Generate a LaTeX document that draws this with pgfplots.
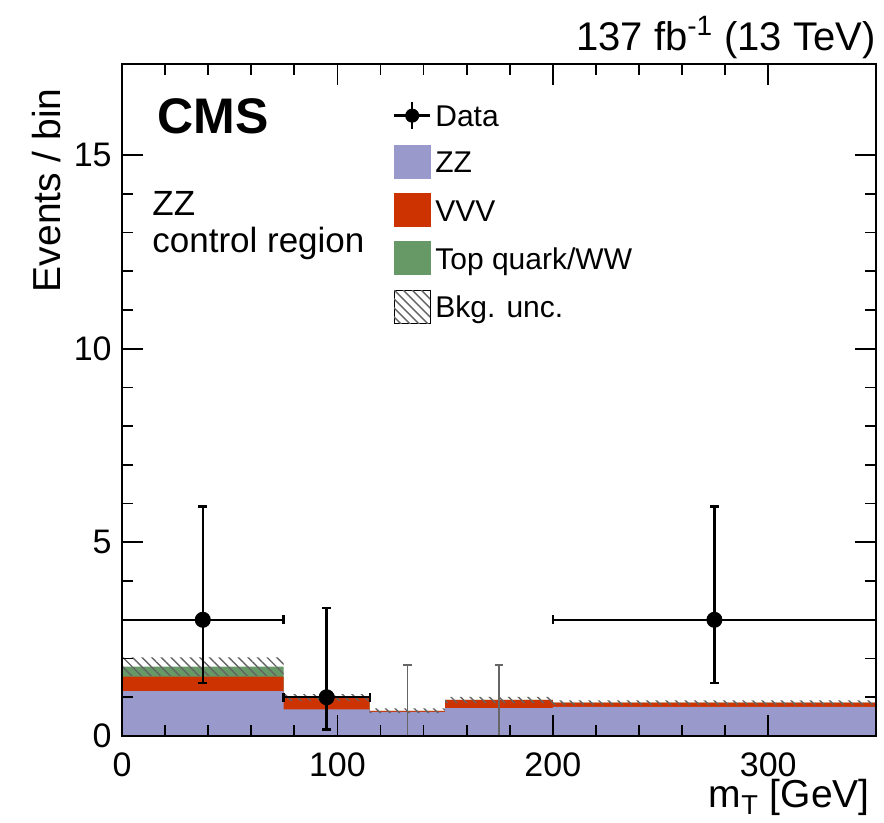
\documentclass[border=0pt]{standalone}
\usepackage{fontspec}
\setmainfont{Liberation Sans}
\usepackage{pgfplots}
\pgfplotsset{compat=1.18}
\usepackage{pgfplotstable}
\usepgfplotslibrary{fillbetween}
\usetikzlibrary{patterns.meta}
\definecolor{zzcol}{RGB}{153,153,204}
\definecolor{vvvcol}{RGB}{204,51,0}
\definecolor{topcol}{RGB}{102,153,102}
\definecolor{hatchcol}{RGB}{100,100,100}

\pgfplotstableread{
x zz zzv tot lo hi
0 1.16 1.53 1.79 1.55 2.03
75 0.69 0.99 0.99 0.90 1.08
115 0.62 0.65 0.65 0.59 0.71
150 0.72 0.93 0.93 0.85 1.01
200 0.75 0.86 0.86 0.80 0.92
350 0.75 0.86 0.86 0.80 0.92
}\bkg

\pgfplotstableread{
x y xm xp ym yp
37.5 3 37.5 37.5 1.63 2.92
95 1 20 20 0.83 2.30
275 3 75 75 1.63 2.92
}\data

\pgfplotstableread{
x y yp
132.5 0 1.84
175 0 1.84
}\zerodata

\begin{document}
\begin{tikzpicture}
\begin{axis}[
  name=ax,
  scale only axis, width=377pt, height=336pt,
  xmin=0, xmax=350, ymin=0, ymax=17.35,
  axis on top, clip=false,
  axis line style={line width=1.4pt},
  xtick={0,100,200,300}, ytick={0,5,10,15},
  minor x tick num=4, minor y tick num=4,
  tick align=inside, tick pos=both,
  xticklabel pos=left, yticklabel pos=left,
  major tick length=10.5pt, minor tick length=5.5pt,
  every tick/.append style={line width=0.9pt, black},
  /pgf/number format/assume math mode=true,
  tick label style={font=\fontsize{17}{20}\selectfont},
  xticklabel style={inner sep=0pt, yshift=-8pt},
  yticklabel style={inner sep=0pt, xshift=-5pt},
  xlabel={m\textsubscript{T} [GeV]},
  xlabel style={at={(rel axis cs:1,0)}, anchor=base east, inner sep=0pt,
    yshift=-36pt, xshift=-3pt, font=\fontsize{19.5}{23}\selectfont},
  ylabel={Events / bin},
  ylabel style={at={([xshift=-30.5pt,yshift=-12pt]rel axis cs:0,1)}, anchor=south east,
    inner sep=0pt, font=\fontsize{19.5}{23}\selectfont},
  legend cell align=left,
  legend style={at={(rel axis cs:0.3594,0.945)}, anchor=north west, draw=none, fill=none,
    inner sep=0pt, outer sep=0pt, row sep=7.25pt, column sep=2pt,
    font=\fontsize{15}{18}\selectfont,
    nodes={inner sep=0pt, text height=12.5pt, text depth=1.5pt}},
]
\addlegendimage{legend image code/.code={
  \draw[line width=1.2pt] (0pt,0pt) -- (18pt,0pt);
  \draw[line width=1.2pt] (9pt,-6.75pt) -- (9pt,6.75pt);
  \fill (9pt,0pt) circle (3.3pt);}}
\addlegendentry{Data}
\addlegendimage{legend image code/.code={\fill[zzcol] (0pt,-8.25pt) rectangle (18pt,8.25pt);}}
\addlegendentry{ZZ}
\addlegendimage{legend image code/.code={\fill[vvvcol] (0pt,-8.25pt) rectangle (18pt,8.25pt);}}
\addlegendentry{VVV}
\addlegendimage{legend image code/.code={\fill[topcol] (0pt,-8.25pt) rectangle (18pt,8.25pt);}}
\addlegendentry{Top quark/WW}
\addlegendimage{legend image code/.code={
  \path (0pt,-8.25pt) rectangle (18pt,8.25pt);
  \begin{scope}
  \clip (0pt,-8.25pt) rectangle (18pt,8.25pt);
  \foreach \k in {0,1,2,3,4,5,6,7} {\draw[hatchcol, line width=0.7pt] (\k*4.5pt-18pt,8.25pt) -- ++(18pt,-18pt);}
  \end{scope}}}
\addlegendentry{Bkg. unc.}

% stacked backgrounds (cumulative)
\addplot[const plot, fill=topcol, draw=none, forget plot] table[x=x,y=tot]{\bkg} \closedcycle;
\addplot[const plot, fill=vvvcol, draw=none, forget plot] table[x=x,y=zzv]{\bkg} \closedcycle;
\addplot[const plot, fill=zzcol, draw=none, forget plot] table[x=x,y=zz]{\bkg} \closedcycle;

% uncertainty band
\addplot[name path=bandlo, const plot, draw=none, forget plot] table[x=x,y=lo]{\bkg};
\addplot[name path=bandhi, const plot, draw=none, forget plot] table[x=x,y=hi]{\bkg};
\addplot[pattern={Lines[angle=-45,distance=3.4pt,line width=0.7pt]}, pattern color=hatchcol, draw=none, forget plot]
  fill between[of=bandhi and bandlo, on layer=main];

% empty bins: upper error only
\addplot[draw=none, mark=none, forget plot,
  error bars/.cd, y dir=plus, y explicit,
  error bar style={draw=black!60, line width=0.8pt},
  error mark options={rotate=90, draw=black!60, line width=0.8pt, mark size=2.2pt}]
  table[x=x, y=y, y error plus=yp]{\zerodata};

% data
\addplot[black, only marks, mark=*, mark size=3.8pt, forget plot,
  error bars/.cd, x dir=both, x explicit, y dir=both, y explicit,
  error bar style={line width=1.2pt, black},
  error mark options={rotate=90, line width=1.2pt, mark size=2.2pt, black}]
  table[x=x, y=y, x error minus=xm, x error plus=xp, y error minus=ym, y error plus=yp]{\data};

\node[anchor=base west, inner sep=0pt, font=\fontsize{25}{30}\selectfont\bfseries] at (rel axis cs:0.0464,0.896) {CMS};
\node[anchor=base west, inner sep=0pt, font=\fontsize{17.5}{21}\selectfont] at (rel axis cs:0.0398,0.774) {ZZ};
\node[anchor=base west, inner sep=0pt, font=\fontsize{17.5}{21}\selectfont] at (rel axis cs:0.0398,0.719) {control region};
\node[anchor=base east, inner sep=0pt, font=\fontsize{20}{24}\selectfont] at ([yshift=6.5pt]rel axis cs:1,1) {137 fb\textsuperscript{-1} (13 TeV)};
\end{axis}
\pgfresetboundingbox
\useasboundingbox (-61pt,-43.5pt) rectangle (381pt,368pt);
\end{tikzpicture}
\end{document}
